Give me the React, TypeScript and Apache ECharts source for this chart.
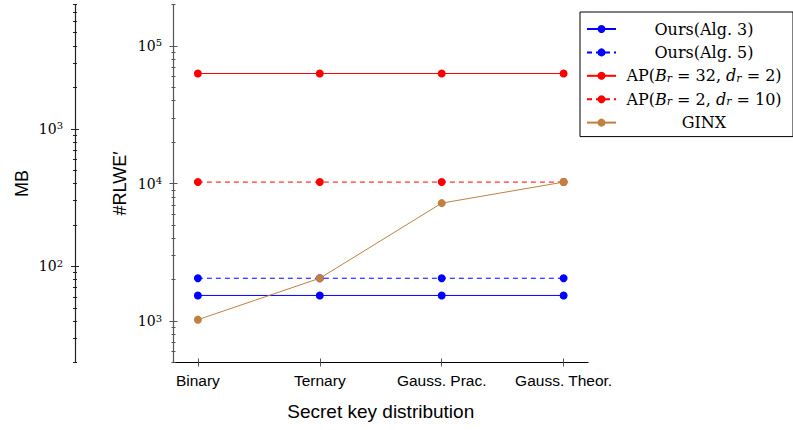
import React, { useEffect, useRef } from "react";
import * as echarts from "echarts";

// ---------- data ----------
const categories = ["Binary", "Ternary", "Gauss. Prac.", "Gauss. Theor."];
const seriesNames = [
  "Ours(Alg. 3)",
  "Ours(Alg. 5)",
  "AP(B_r = 32, d_r = 2)",
  "AP(B_r = 2, d_r = 10)",
  "GINX",
];
const oursAlg3 = [1536, 1536, 1536, 1536];
const oursAlg5 = [2048, 2048, 2048, 2048];
const apBr32 = [63000, 63000, 63000, 63000];
const apBr2 = [10240, 10240, 10240, 10240];
const ginx = [1024, 2048, 7200, 10240];

const rlweRange = [500, 200000];
const rlweMajorTicks = [1000, 10000, 100000];
const rlweMinorTicks = [
  500, 600, 700, 800, 900,
  2000, 3000, 4000, 5000, 6000, 7000, 8000, 9000,
  20000, 30000, 40000, 50000, 60000, 70000, 80000, 90000,
  200000,
];
const mbRange = [20, 8000];
const mbMajorTicks = [100, 1000];
const mbMinorTicks = [
  20, 30, 40, 50, 60, 70, 80, 90,
  200, 300, 400, 500, 600, 700, 800, 900,
  2000, 3000, 4000, 5000, 6000, 7000, 8000,
];
const categoryTicks = [0, 1, 2, 3];

// ---------- styles ----------
const SERIF_TICK = "DejaVu Serif";
const SERIF_LEGEND = "DejaVu Serif";
const SANS = "Liberation Sans";

const seriesStyles = [
  { color: "#0000ff", type: "solid" },
  { color: "#0000ff", type: [5, 4] },
  { color: "#ff0000", type: "solid" },
  { color: "#ff0000", type: [5, 4] },
  { color: "#bf8040", type: "solid" },
];
const seriesValues = [oursAlg3, oursAlg5, apBr32, apBr2, ginx];

const supFormatter = (v: number) =>
  `{b|10}{s|${Math.round(Math.log10(v))}}`;
const tickRich = {
  b: { fontFamily: SERIF_TICK, fontSize: 14, lineHeight: 16, color: "#000" },
  s: {
    fontFamily: SERIF_TICK,
    fontSize: 10,
    lineHeight: 10,
    verticalAlign: "top",
    color: "#000",
  },
};

const legendFormatter = (name: string) => {
  if (name.startsWith("AP(")) {
    const m = name.match(/B_r = (\d+), d_r = (\d+)/);
    const b = m ? m[1] : "";
    const d = m ? m[2] : "";
    return `{t|AP(}{i|B}{s|r}{t| = ${b}, }{i|d}{s|r}{t| = ${d})}`;
  }
  return `{t|${name}}`;
};

function tickOnlyAxis(base: any, values: number[], length: number, inside: boolean, color: string) {
  return {
    ...base,
    name: "",
    axisLine: { show: false, onZero: false },
    axisLabel: { show: false },
    splitLine: { show: false },
    minorTick: { show: false },
    axisTick: {
      show: true,
      customValues: values,
      length,
      inside,
      lineStyle: { color, width: 1 },
    },
  };
}

function buildOption() {
  const mainY = {
    type: "log",
    logBase: 10,
    min: rlweRange[0],
    max: rlweRange[1],
    position: "left",
    offset: 0,
  };
  const mbY = {
    type: "log",
    logBase: 10,
    min: mbRange[0],
    max: mbRange[1],
    position: "left",
    offset: 98.5,
  };
  const mainColor = "#555";
  const mbColor = "#222";

  const yAxis = [
    {
      ...mainY,
      name: "#RLWE\u2032",
      nameLocation: "middle",
      nameGap: 45,
      nameRotate: 90,
      nameMoveOverlap: false,
      nameTextStyle: { fontFamily: SANS, fontSize: 18, color: "#000" },
      axisLine: { show: true, onZero: false, lineStyle: { color: mainColor, width: 1.2 } },
      axisTick: {
        show: true,
        customValues: rlweMajorTicks,
        length: 4,
        lineStyle: { color: mainColor, width: 1 },
      },
      axisLabel: {
        show: true,
        customValues: rlweMajorTicks,
        formatter: supFormatter,
        margin: 11.5,
        fontFamily: SERIF_TICK,
        fontSize: 14,
        color: "#000",
        rich: tickRich,
      },
      splitLine: { show: false },
      minorTick: { show: false },
    },
    tickOnlyAxis(mainY, rlweMajorTicks, 4, true, mainColor),
    tickOnlyAxis(mainY, rlweMinorTicks, 2, false, mainColor),
    tickOnlyAxis(mainY, rlweMinorTicks, 2, true, mainColor),
    {
      ...mbY,
      name: "MB",
      nameLocation: "middle",
      nameGap: 44,
      nameRotate: 90,
      nameMoveOverlap: false,
      nameTextStyle: { fontFamily: SANS, fontSize: 18, color: "#000" },
      axisLine: { show: true, onZero: false, lineStyle: { color: mbColor, width: 1.2 } },
      axisTick: {
        show: true,
        customValues: mbMajorTicks,
        length: 4,
        lineStyle: { color: mbColor, width: 1 },
      },
      axisLabel: {
        show: true,
        customValues: mbMajorTicks,
        formatter: supFormatter,
        margin: 12,
        fontFamily: SERIF_TICK,
        fontSize: 14,
        color: "#000",
        rich: tickRich,
      },
      splitLine: { show: false },
      minorTick: { show: false },
    },
    tickOnlyAxis(mbY, mbMajorTicks, 4, true, mbColor),
    tickOnlyAxis(mbY, mbMinorTicks, 2, false, mbColor),
    tickOnlyAxis(mbY, mbMinorTicks, 2, true, mbColor),
  ];

  const baseX = { type: "value", min: -0.2, max: 3.2, position: "bottom" };
  const xAxis = [
    {
      ...baseX,
      name: "Secret key distribution",
      nameLocation: "middle",
      nameGap: 39,
      nameMoveOverlap: false,
      nameTextStyle: { fontFamily: SANS, fontSize: 19, color: "#000" },
      axisLine: { show: true, onZero: false, lineStyle: { color: "#000", width: 1.2 } },
      axisTick: {
        show: true,
        customValues: categoryTicks,
        length: 4,
        lineStyle: { color: "#555", width: 1 },
      },
      axisLabel: {
        show: true,
        customValues: categoryTicks,
        formatter: (v: number) => categories[Math.round(v)] ?? "",
        fontFamily: SANS,
        fontSize: 15.5,
        color: "#000",
        margin: 10,
      },
      splitLine: { show: false },
      minorTick: { show: false },
    },
    tickOnlyAxis(baseX, categoryTicks, 4, true, "#555"),
  ];

  const series = seriesNames.map((name, si) => ({
    name,
    type: "line",
    xAxisIndex: 0,
    yAxisIndex: 0,
    symbol: "circle",
    symbolSize: 8,
    showSymbol: true,
    color: seriesStyles[si].color,
    itemStyle: { color: seriesStyles[si].color },
    lineStyle: {
      color: seriesStyles[si].color,
      width: 1,
      type: seriesStyles[si].type,
    },
    data: categories.map((_, i) => [i, seriesValues[si][i]]),
    z: 2 + si,
  }));

  const legendTextBase = {
    fontFamily: SERIF_LEGEND,
    fontSize: 16,
    lineHeight: 16,
    color: "#000",
    align: "center",
  };

  return {
    animation: false,
    backgroundColor: "#fff",
    grid: { left: 173.5, right: 205, top: 4.5, bottom: 67.5, containLabel: false },
    xAxis,
    yAxis,
    legend: {
      show: true,
      orient: "vertical",
      left: 580,
      top: 12,
      padding: [9, 6, 6, 6],
      itemGap: 7.4,
      itemWidth: 29,
      itemHeight: 10,
      borderColor: "#000",
      borderWidth: 1,
      backgroundColor: "#fff",
      selectedMode: false,
      data: seriesNames,
      formatter: legendFormatter,
      textStyle: {
        width: 166,
        fontFamily: SERIF_LEGEND,
        fontSize: 16,
        lineHeight: 16,
        color: "#000",
        rich: {
          t: { ...legendTextBase },
          i: { ...legendTextBase, fontStyle: "italic" },
          s: {
            ...legendTextBase,
            fontSize: 11,
            fontStyle: "italic",
            lineHeight: 10,
            verticalAlign: "bottom",
          },
        },
      },
    },
    series,
  };
}

export default function App() {
  const ref = useRef<HTMLDivElement>(null);
  useEffect(() => {
    if (!ref.current) return;
    const chart = echarts.init(ref.current, null, { renderer: "svg" });
    chart.setOption(buildOption() as any);
    return () => chart.dispose();
  }, []);
  return (
    <div
      ref={ref}
      style={{
        position: "absolute",
        left: 0,
        top: 0,
        width: 793,
        height: 430,
        background: "#fff",
      }}
    />
  );
}
